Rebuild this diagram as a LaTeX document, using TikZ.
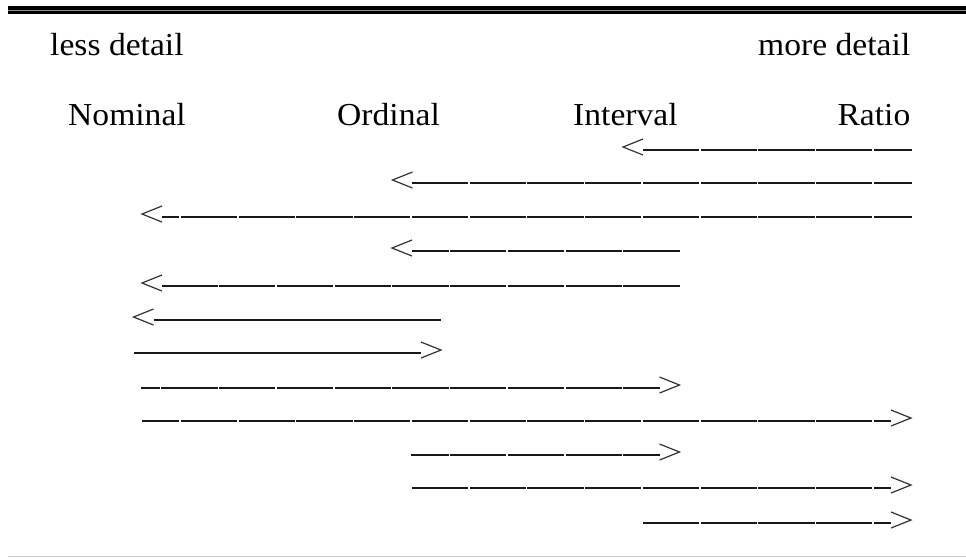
\documentclass[tikz,border=0pt]{standalone}
\usepackage{fontspec}
\setmainfont{Liberation Serif}
\begin{document}
\begin{tikzpicture}[x=1pt,y=-1pt,
  lbl/.style={inner sep=0pt, font=\fontsize{32}{38}\selectfont},
  shaft/.style={line width=2pt, black!90, dash pattern=on 56.25pt off 1.5pt},
  solidshaft/.style={line width=2pt, black!90},
  chev/.style={line width=1.2pt, line join=miter, black!80},
  lchev/.pic={\draw[chev] (20,-11) -- (0,-3) -- (20,5);},
  rchev/.pic={\draw[chev] (-20,-11) -- (0,-3) -- (-20,5);},
]
\useasboundingbox (0,0) rectangle (966,558);
% rules
\draw[line width=1pt, black!45] (8,10.5) -- (966,10.5);
\draw[line width=4pt] (8,8) -- (966,8);
\draw[line width=2.5pt] (8,12.25) -- (966,12.25);
\draw[line width=1.5pt, black!22] (8,556.5) -- (966,556.5);
% labels
\node[lbl, anchor=base west] (less) at (50,55) {\scalebox{1.05}[1]{less detail}};
\node[lbl, anchor=base east] (more) at (910.5,55) {\scalebox{1.05}[1]{more detail}};
\node[lbl, anchor=base west] (nom) at (68,125) {\scalebox{1.05}[1]{Nominal}};
\node[lbl, anchor=base west] (ord) at (337,125) {\scalebox{1.05}[1]{Ordinal}};
\node[lbl, anchor=base west] (int) at (573,125) {\scalebox{1.05}[1]{Interval}};
\node[lbl, anchor=base east] (rat) at (910.5,125) {\scalebox{1.05}[1]{Ratio}};
% arrow end points
\coordinate (t1) at (623,150);   \coordinate (e1) at (911.5,150);
\coordinate (t2) at (392.5,183); \coordinate (e2) at (911.5,183);
\coordinate (t3) at (142,217);   \coordinate (e3) at (911.5,217);
\coordinate (t4) at (392,251);   \coordinate (e4) at (679.5,251);
\coordinate (t5) at (142,286);   \coordinate (e5) at (679.5,286);
\coordinate (t6) at (133.5,320); \coordinate (e6) at (441,320);
\coordinate (s7) at (134,353);   \coordinate (t7) at (441,353);
\coordinate (s8) at (141,388);   \coordinate (t8) at (679.5,388);
\coordinate (s9) at (142,421);   \coordinate (t9) at (911,421);
\coordinate (s10) at (411,455);  \coordinate (t10) at (679.5,455);
\coordinate (s11) at (412,488);  \coordinate (t11) at (911,488);
\coordinate (s12) at (643,523);  \coordinate (t12) at (911,523);
% leftward arrows
\draw[shaft, dash phase=0.25pt] ([xshift=20pt]t1) -- (e1);  \pic at (t1) {lchev};
\draw[shaft, dash phase=0.25pt] ([xshift=19.5pt]t2) -- (e2);  \pic at (t2) {lchev};
\draw[shaft, dash phase=39pt] ([xshift=20pt]t3) -- (e3);  \pic at (t3) {lchev};
\draw[shaft, dash phase=19.55pt] ([xshift=20pt]t4) -- (e4);  \pic at (t4) {lchev};
\draw[shaft, dash phase=0.55pt] ([xshift=20pt]t5) -- (e5);  \pic at (t5) {lchev};
\draw[solidshaft] ([xshift=20pt]t6) -- (e6);  \pic at (t6) {lchev};
% rightward arrows
\draw[solidshaft] (s7) -- ([xshift=-20pt]t7);  \pic at (t7) {rchev};
\draw[shaft, dash phase=37.3pt] (s8) -- ([xshift=-20pt]t8);  \pic at (t8) {rchev};
\draw[shaft, dash phase=19pt] (s9) -- ([xshift=-20pt]t9);  \pic at (t9) {rchev};
\draw[shaft, dash phase=18.55pt] (s10) -- ([xshift=-20pt]t10);  \pic at (t10) {rchev};
\draw[shaft, dash phase=0.25pt] (s11) -- ([xshift=-20pt]t11);  \pic at (t11) {rchev};
\draw[shaft, dash phase=0.25pt] (s12) -- ([xshift=-20pt]t12);  \pic at (t12) {rchev};
\end{tikzpicture}
\end{document}
